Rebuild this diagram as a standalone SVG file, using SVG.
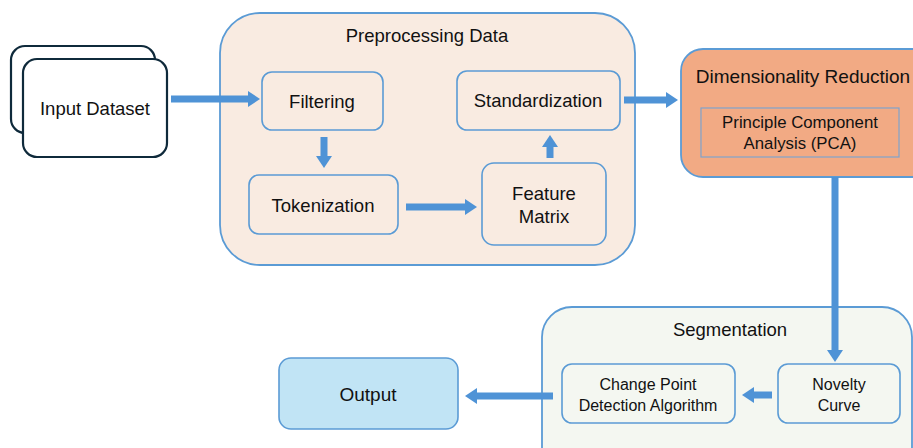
<svg xmlns="http://www.w3.org/2000/svg" width="913" height="448" viewBox="0 0 913 448">
<defs>
<marker id="ah" markerUnits="userSpaceOnUse" markerWidth="12" markerHeight="16" viewBox="0 0 12 16" refX="0" refY="8" orient="auto">
<path d="M0,0 L12,8 L0,16 z" fill="#4f93d6"/>
</marker>
</defs>
<style>
text{font-family:"Liberation Sans",Arial,sans-serif;fill:#111;text-anchor:middle;dominant-baseline:central}
.t17{font-size:18.5px}
.t16{font-size:16px}
.box{fill:#f9ebe1;stroke:#5b9bd5;stroke-width:1.6}
.cont{stroke:#5b9bd5;stroke-width:1.8}
.seg{fill:#f4f7f1;stroke:#5b9bd5;stroke-width:1.6}
.inp{fill:#fff;stroke:#0f2a3b;stroke-width:2.2}
.conn line{stroke:#4f93d6;stroke-width:7;marker-end:url(#ah)}
</style>
<rect width="913" height="448" fill="#fff"/>

<g id="input-dataset">
<rect class="inp" x="11" y="46" width="144" height="87" rx="14"/>
<rect class="inp" x="23" y="59" width="144" height="98" rx="14"/>
<text class="t17" x="95" y="108">Input Dataset</text>
</g>

<g id="preprocessing">
<rect class="cont" x="220" y="13" width="415" height="252" rx="40" fill="#f9ebe1"/>
<text class="t17" x="427" y="35">Preprocessing Data</text>
</g>

<g id="filtering">
<rect class="box" x="262" y="72" width="121" height="58" rx="10"/>
<text class="t17" x="322" y="101">Filtering</text>
</g>

<g id="tokenization">
<rect class="box" x="249" y="175" width="149" height="59" rx="10"/>
<text class="t17" x="323" y="205">Tokenization</text>
</g>

<g id="feature-matrix">
<rect class="box" x="482" y="163" width="124" height="82" rx="12"/>
<text class="t17" x="544" y="193">Feature</text>
<text class="t17" x="544" y="216">Matrix</text>
</g>

<g id="standardization">
<rect class="box" x="457" y="71" width="163" height="59" rx="10"/>
<text class="t17" x="538" y="100">Standardization</text>
</g>

<g id="dimensionality-reduction">
<rect class="cont" x="681" y="49" width="260" height="128" rx="22" fill="#f2aa84"/>
<text x="803" y="76" style="font-size:19px">Dimensionality Reduction</text>
<rect x="701" y="108" width="198" height="49" fill="none" stroke="#7fa3cc" stroke-width="1.2"/>
<text x="800" y="122" style="font-size:16.8px">Principle Component</text>
<text x="800" y="143" style="font-size:16.8px">Analysis (PCA)</text>
</g>

<g id="segmentation">
<rect class="cont" x="542" y="307" width="370" height="170" rx="30" fill="#f4f7f1"/>
<text class="t17" x="730" y="329">Segmentation</text>
</g>

<g id="change-point">
<rect class="seg" x="562" y="364" width="173" height="59" rx="10"/>
<text class="t16" x="648" y="384">Change Point</text>
<text class="t16" x="648" y="405">Detection Algorithm</text>
</g>

<g id="novelty-curve">
<rect class="seg" x="778" y="364" width="122" height="59" rx="10"/>
<text class="t16" x="839" y="384">Novelty</text>
<text class="t16" x="839" y="405">Curve</text>
</g>

<g id="output">
<rect x="279" y="358" width="179" height="71" rx="12" fill="#c1e4f5" stroke="#5b9bd5" stroke-width="1.6"/>
<text x="368" y="394" style="font-size:19px">Output</text>
</g>

<g id="connectors" class="conn">
<line x1="171" y1="99" x2="248" y2="99"/>
<line x1="324" y1="137" x2="324" y2="156"/>
<line x1="406" y1="207" x2="465" y2="207"/>
<line x1="550" y1="158" x2="550" y2="147"/>
<line x1="624" y1="100" x2="666" y2="100"/>
<line x1="835" y1="177" x2="835" y2="350"/>
<line x1="772" y1="395" x2="754" y2="395"/>
<line x1="553" y1="396" x2="477" y2="396"/>
</g>
</svg>
